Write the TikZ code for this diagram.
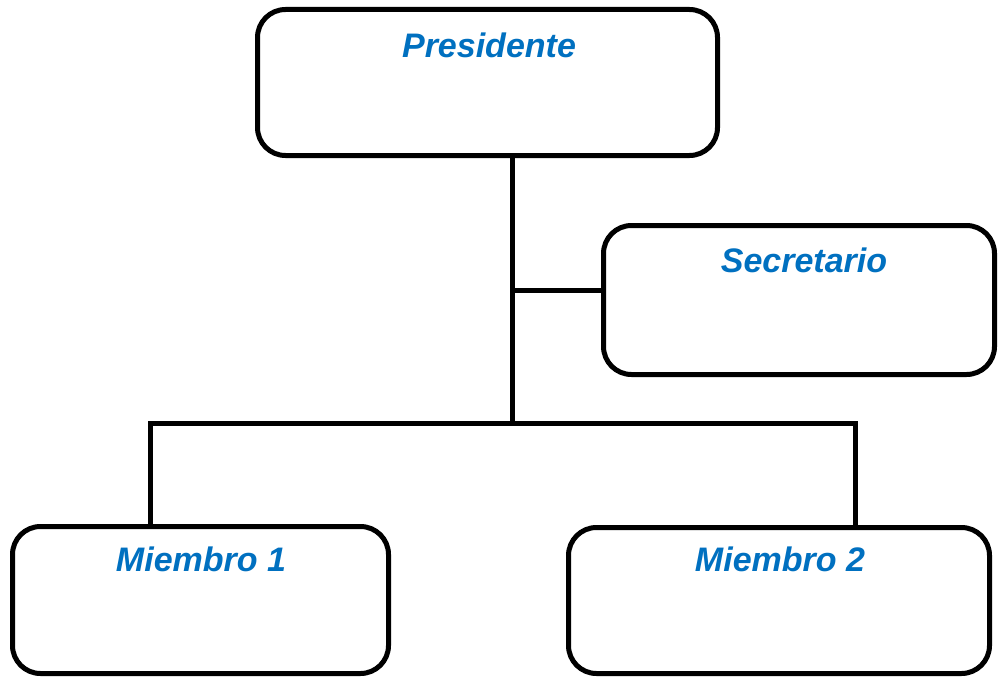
\documentclass[tikz,border=0pt]{standalone}
\usepackage{fontspec}
\setmainfont{Liberation Sans}
\definecolor{titleblue}{RGB}{0,112,192}
\tikzset{
  orgbox/.style={draw=black, line width=5pt, rounded corners=28pt, rectangle, inner sep=0pt, fill=white},
  orgtitle/.style={anchor=base, text=titleblue, font=\fontsize{34}{40}\selectfont\bfseries\itshape, inner sep=0pt},
  orgline/.style={draw=black, line width=5pt}
}
\begin{document}
\begin{tikzpicture}[x=1pt, y=-1pt]
\useasboundingbox (0,0) rectangle (998,677);
% boxes
\node[orgbox, minimum width=460pt, minimum height=146pt] (pres) at (487.5,82.5) {};
\node[orgbox, minimum width=391pt, minimum height=149pt] (sec) at (799,300) {};
\node[orgbox, minimum width=376pt, minimum height=147pt] (m1) at (200.5,600) {};
\node[orgbox, minimum width=421pt, minimum height=146pt] (m2) at (779,600.5) {};
% titles
\node[orgtitle] (tp) at (489,57) {Presidente};
\node[orgtitle] (ts) at (804,272) {Secretario};
\node[orgtitle] (tm1) at (201,571) {Miembro 1};
\node[orgtitle] (tm2) at (780,571) {Miembro 2};
% junctions
\coordinate (jC) at (512,423);
\coordinate (jS) at (512,290);
\coordinate (jL) at (150,423);
\coordinate (jR) at (855,423);
% connectors
\draw[orgline] (pres.south -| jC) -- (jC);
\draw[orgline] (jS) -- (sec.west |- jS);
\draw[orgline] (m1.north -| jL) -- (jL) -- (jR) -- (m2.north -| jR);
\end{tikzpicture}
\end{document}
